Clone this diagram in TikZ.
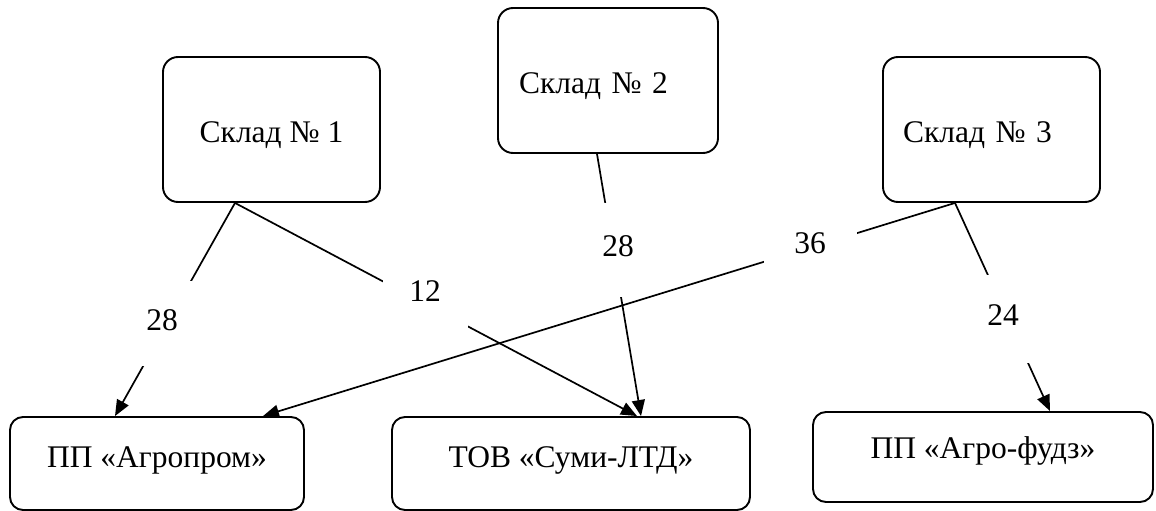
\documentclass[tikz,border=0pt]{standalone}
\usepackage{fontspec}
\setmainfont{Liberation Serif}
\usetikzlibrary{arrows.meta}
\begin{document}
\begin{tikzpicture}[x=1pt,y=-1pt,
  font=\fontsize{31.5}{36}\selectfont,
  box/.style={draw,line width=1.9pt,rounded corners=15pt,inner sep=0pt,
    text height=20.5pt,text depth=0pt},
  flow/.style={line width=1.7pt,-{Triangle[length=16pt,width=13pt]}},
  qty/.style={fill=white,inner sep=0pt,text height=21pt,text depth=8pt}]
\useasboundingbox (0,0) rectangle (1156,511);
% warehouses
\node[box,minimum width=217pt,minimum height=145pt,text height=25.5pt]
  (s1) at (271.5,129.5) {Склад № 1};
\node[box,minimum width=220pt,minimum height=145pt,text width=178pt,
  align=left,inner xsep=21pt,text height=25.5pt]
  (s2) at (608,80.5) {Склад № 2};
\node[box,minimum width=217pt,minimum height=145pt,text width=177pt,
  align=left,inner xsep=20pt,text height=25.5pt]
  (s3) at (991.5,129.5) {Склад № 3};
% customers
\node[box,minimum width=294pt,minimum height=93pt,rounded corners=13pt,
  text depth=13pt] (c1) at (157,463.5) {ПП «Агропром»};
\node[box,minimum width=358pt,minimum height=93pt,rounded corners=13pt,
  text depth=13pt] (c2) at (571,463.5) {ТОВ «Суми-ЛТД»};
\node[box,minimum width=340pt,minimum height=90pt,rounded corners=13pt,
  text depth=18pt] (c3) at (983,457) {ПП «Агро-фудз»};
% shipments
\draw[flow] ([xshift=-36.5pt]s1.south) -- ([xshift=-42pt]c1.north);
\draw[flow] ([xshift=-36.5pt]s1.south) -- ([xshift=66pt]c2.north);
\draw[flow] ([xshift=-11pt]s2.south) -- ([xshift=70pt]c2.north);
\draw[flow] ([xshift=-36.5pt]s3.south) -- ([xshift=106pt]c1.north);
\draw[flow] ([xshift=-36.5pt]s3.south) -- ([xshift=67pt]c3.north);
% quantities
\node[qty,minimum width=80pt,minimum height=85pt] (q1) at (162,323.5) {28};
\node[qty,minimum width=85pt,minimum height=80pt] (q2) at (425,295) {12};
\node[qty,minimum width=48pt,minimum height=94pt] (q3) at (618,250) {28};
\node[qty,minimum width=93pt,minimum height=50pt] (q4) at (810,247) {36};
\node[qty,minimum width=60pt,minimum height=88pt] (q5) at (1003,319) {24};
\end{tikzpicture}
\end{document}
